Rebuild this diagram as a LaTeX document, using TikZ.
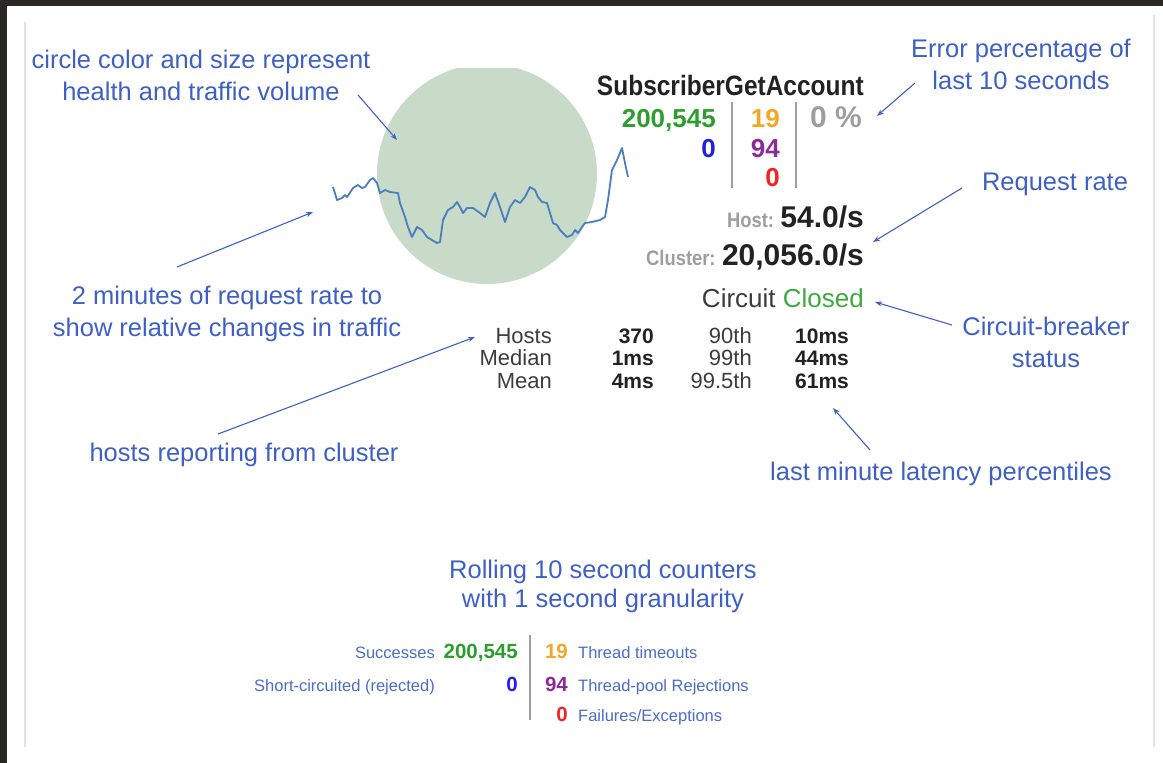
\documentclass[tikz,border=0pt]{standalone}
\usepackage{fontspec}
\setmainfont{Liberation Sans}
\newfontfamily\condfont[FakeStretch=0.875]{Liberation Sans}
\usepackage{xcolor}
\usetikzlibrary{arrows.meta}

\definecolor{annblue}{RGB}{62,96,196}
\definecolor{legblue}{RGB}{74,108,200}
\definecolor{sparkblue}{RGB}{74,126,192}
\definecolor{bubblegreen}{RGB}{200,219,201}
\definecolor{okgreen}{RGB}{44,158,44}
\definecolor{closedgreen}{RGB}{60,170,60}
\definecolor{rejblue}{RGB}{32,32,232}
\definecolor{toorange}{RGB}{247,166,36}
\definecolor{poolpurple}{RGB}{139,43,153}
\definecolor{failred}{RGB}{240,36,36}
\definecolor{softgrey}{RGB}{158,158,158}
\definecolor{darktext}{RGB}{34,34,34}
\definecolor{tabletext}{RGB}{60,60,60}
\definecolor{framedark}{RGB}{43,39,35}
\definecolor{rulegrey}{RGB}{226,226,226}

\tikzset{
  note/.style={annblue, inner sep=0pt, anchor=base, align=center,
    font=\fontsize{25.5}{32}\selectfont},
  pointer/.style={annblue, line width=1.1pt, -{Stealth[length=7pt,width=5pt]}},
  bignum/.style={inner sep=0pt, font=\bfseries\fontsize{26}{28}\selectfont},
  ratenum/.style={inner sep=0pt, darktext, font=\bfseries\fontsize{30}{32}\selectfont},
  ratelbl/.style={inner sep=0pt, softgrey, font=\condfont\bfseries\fontsize{21}{22}\selectfont},
  tabtxt/.style={inner sep=0pt, tabletext, font=\fontsize{22}{24}\selectfont},
  tabnum/.style={inner sep=0pt, darktext, font=\bfseries\fontsize{21}{24}\selectfont},
  legtxt/.style={inner sep=0pt, legblue, font=\fontsize{16.5}{20}\selectfont},
  legnum/.style={inner sep=0pt, font=\bfseries\fontsize{20.5}{22}\selectfont},
  divider/.style={softgrey, line width=1.2pt},
  spark/.style={sparkblue, line width=1.8pt, line join=round},
}

\begin{document}
\begin{tikzpicture}[x=1pt,y=-1pt]
\useasboundingbox (0,0) rectangle (1163,763);
% screen frame
\fill[framedark] (0,0) rectangle (1163,6);
\fill[framedark] (0,0) rectangle (7,763);
\draw[rulegrey, line width=1.5pt] (25,22) -- (25,747);
\draw[rulegrey, line width=1.5pt] (1154,15) -- (1154,747);

% bubble + sparkline
\begin{scope}
\clip (300,68) rectangle (700,320);
\fill[bubblegreen] (487,174) circle[radius=110];
\end{scope}
\draw[spark] plot coordinates {(333,187) (337,200) (342,198) (345,195) (347,197)
  (353,188) (358,185) (362,188) (365,187) (370,180) (373,178) (377,183) (380,193)
  (385,190) (390,192) (398,193) (400,203) (405,217) (408,227) (412,237) (417,227)
  (422,230) (427,237) (437,243) (440,242) (443,220) (448,210) (453,207) (457,202)
  (460,207) (463,213) (467,208) (473,208) (480,213) (485,217) (490,203) (495,193)
  (500,207) (505,222) (510,207) (515,200) (520,203) (525,197) (530,187) (535,190)
  (538,197) (542,202) (547,203) (550,213) (553,223) (557,225) (560,230) (563,233)
  (567,237) (572,235) (575,230) (578,233) (582,227) (585,223) (592,222) (600,220)
  (605,217) (608,200) (612,170) (617,160) (622,148) (625,163) (628,177)};

% command header
\node[inner sep=0pt, darktext, anchor=base east,
  font=\condfont\bfseries\fontsize{28}{30}\selectfont] (cmd) at (864,95) {SubscriberGetAccount};
\node[bignum, okgreen, anchor=base east] (succ) at (716,127) {200,545};
\node[bignum, rejblue, anchor=base east] (rej) at (716,157) {0};
\node[bignum, toorange, anchor=base east] (tout) at (780,127) {19};
\node[bignum, poolpurple, anchor=base east] (pool) at (780,157) {94};
\node[bignum, failred, anchor=base east] (fail) at (780,186) {0};
\node[bignum, softgrey, font=\bfseries\fontsize{30}{32}\selectfont, anchor=base west] (errpct) at (810,127) {0 \%};
\draw[divider] (732,102) -- (732,188);
\draw[divider] (796,102) -- (796,188);

% rates
\node[ratenum, anchor=base east] (hostrate) at (864,227) {54.0/s};
\node[ratelbl, anchor=base east] (hostlbl) at ([xshift=-6pt]hostrate.base west) {Host:};
\node[ratenum, anchor=base east] (clusterrate) at (864,265) {20,056.0/s};
\node[ratelbl, anchor=base east] (clusterlbl) at ([xshift=-6pt]clusterrate.base west) {Cluster:};
\node[inner sep=0pt, tabletext, anchor=base east, font=\fontsize{26}{28}\selectfont]
  (cbstate) at (864,307) {Circuit \textcolor{closedgreen}{Closed}};

% latency table
\foreach \lbl/\val/\pct/\ms [count=\i] in {Hosts/370/90th/10ms, Median/1ms/99th/44ms, Mean/4ms/99.5th/61ms}{
  \node[tabtxt, anchor=base east] (lbl\i) at (552,{343+22.5*(\i-1)}) {\lbl};
  \node[tabnum, anchor=base east] (val\i) at (654,{343+22.5*(\i-1)}) {\val};
  \node[tabtxt, anchor=base east] (pct\i) at (752,{343+22.5*(\i-1)}) {\pct};
  \node[tabnum, anchor=base west] (ms\i) at (795,{343+22.5*(\i-1)}) {\ms};
}

% annotations (base = last line)
\node[note] (nbubble) at (201,100) {circle color and size represent\\health and traffic volume};
\node[note] (nspark) at (227,336) {2 minutes of request rate to\\show relative changes in traffic};
\node[note] (nhosts) at (244,461) {hosts reporting from cluster};
\node[note] (nerr) at (1021,89) {Error percentage of\\last 10 seconds};
\node[note] (nrate) at (1055,190) {Request rate};
\node[note] (ncb) at (1046,367) {Circuit-breaker\\status};
\node[note] (nlat) at (941,480) {last minute latency percentiles};
\node[note, font=\fontsize{25.5}{29}\selectfont] (nroll) at (603,607) {Rolling 10 second counters\\with 1 second granularity};

\coordinate (bubbleFrom) at (358,95);  \coordinate (bubbleTo) at (397,140);
\coordinate (sparkFrom) at (177,267);  \coordinate (sparkTo) at (313,212);
\coordinate (hostsFrom) at (218,434);  \coordinate (hostsTo) at (475,337);
\coordinate (errFrom) at (915,83);     \coordinate (errTo) at (877,116);
\coordinate (rateFrom) at (962,188);   \coordinate (rateTo) at (873,242);
\coordinate (cbFrom) at (952,325);     \coordinate (cbTo) at (875,302);
\coordinate (latFrom) at (870,450);    \coordinate (latTo) at (833,408);
\draw[pointer] (bubbleFrom) -- (bubbleTo);
\draw[pointer] (sparkFrom) -- (sparkTo);
\draw[pointer] (hostsFrom) -- (hostsTo);
\draw[pointer] (errFrom) -- (errTo);
\draw[pointer] (rateFrom) -- (rateTo);
\draw[pointer] (cbFrom) -- (cbTo);
\draw[pointer] (latFrom) -- (latTo);

% rolling counters legend
\node[legnum, okgreen, anchor=base east] (lsucc) at (518,658) {200,545};
\node[legtxt, anchor=base east] (tsucc) at (435,658) {Successes};
\node[legnum, rejblue, anchor=base east] (lrej) at (518,691) {0};
\node[legtxt, anchor=base east] (trej) at (435,691) {Short-circuited (rejected)};
\draw[divider] (530,635) -- (530,720);
\node[legnum, toorange, anchor=base east] (ltout) at (568,658) {19};
\node[legtxt, anchor=base west] (ttout) at (578,658) {Thread timeouts};
\node[legnum, poolpurple, anchor=base east] (lpool) at (568,691) {94};
\node[legtxt, anchor=base west] (tpool) at (578,691) {Thread-pool Rejections};
\node[legnum, failred, anchor=base east] (lfail) at (568,721) {0};
\node[legtxt, anchor=base west] (tfail) at (578,721) {Failures/Exceptions};
\end{tikzpicture}
\end{document}
